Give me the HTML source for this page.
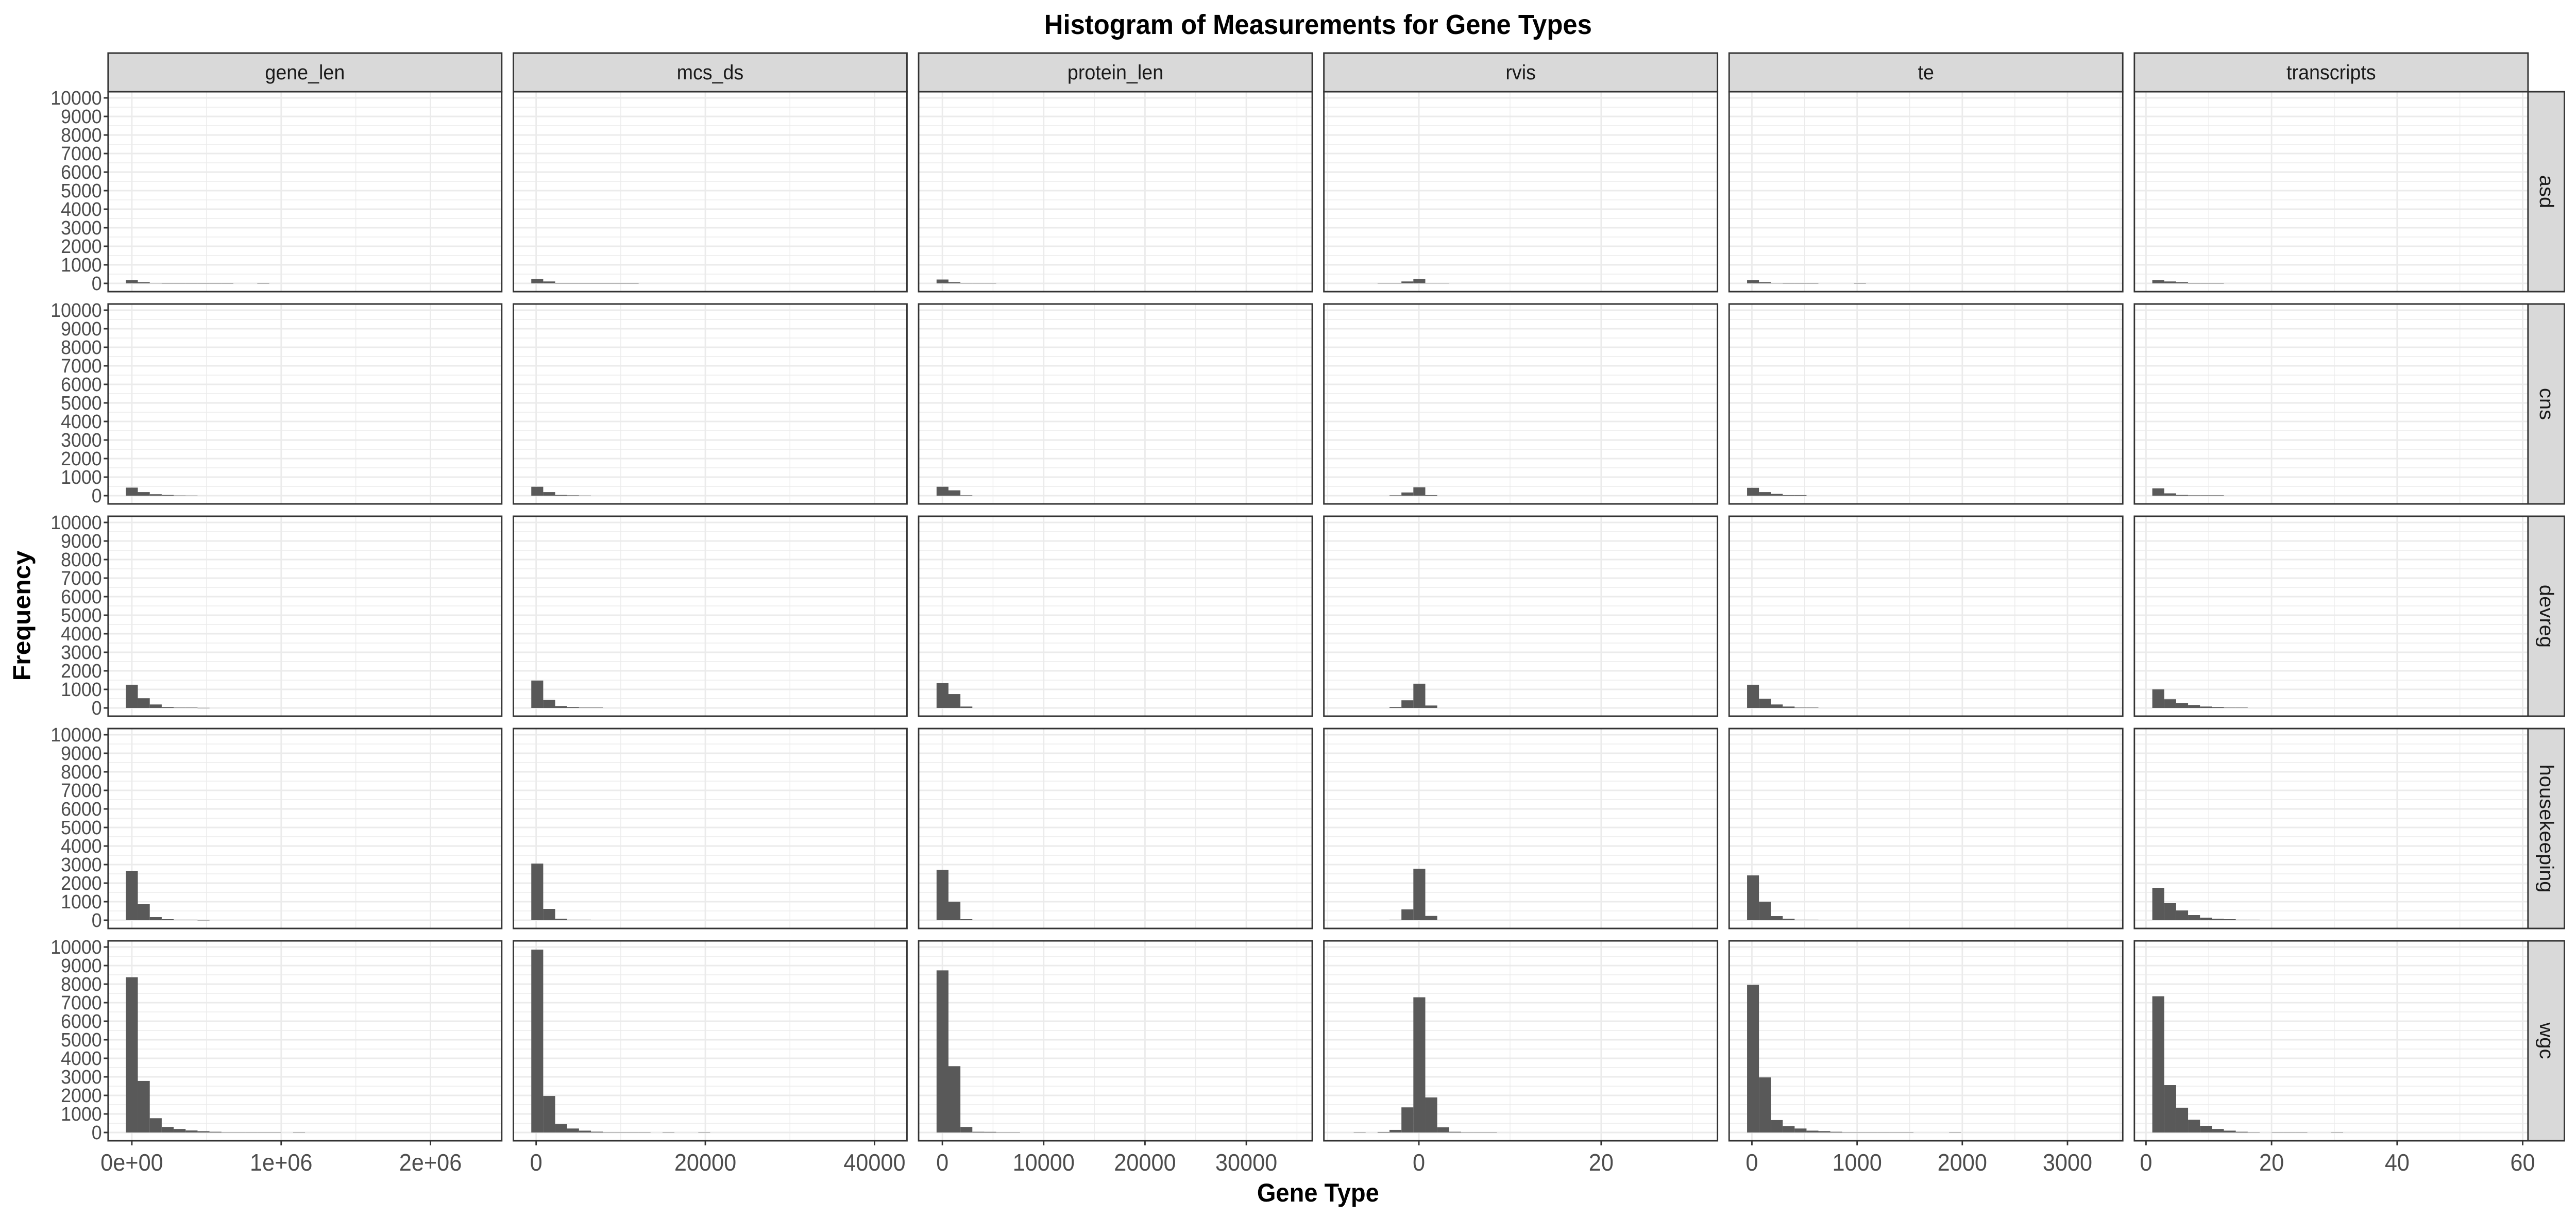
<!DOCTYPE html>
<html><head><meta charset="utf-8"><title>Histogram of Measurements for Gene Types</title>
<style>html,body{margin:0;padding:0;background:#fff;overflow:hidden;}svg{display:block;width:100vw;height:100vh;font-family:"Liberation Sans",Arial,sans-serif;}</style>
</head><body>
<svg id="chart" viewBox="0 0 5314 2362" preserveAspectRatio="none" xmlns="http://www.w3.org/2000/svg"></svg>
<script>
// ---- data ----
const rowNames = ["asd","cns","devreg","housekeeping","wgc"];
const colNames = ["gene_len","mcs_ds","protein_len","rvis","te","transcripts"];
const yTicks = [0,1000,2000,3000,4000,5000,6000,7000,8000,9000,10000];
// bin settings per column (data units)
const binStart = [-40000,-573,-574,-8.46,-46,1.0];
const binWidth = [80000,1410,1177,1.309,113,1.9];
// x tick values / labels per column
const xTicksGeneLen = [0,1000000,2000000];
const xLabelsGeneLen = ["0e+00","1e+06","2e+06"];
const xTicksMcs = [0,20000,40000];
const xTicksProtein = [0,10000,20000,30000];
const xTicksRvis = [0,20];
const xTicksTe = [0,1000,2000,3000];
const xTicksTranscripts = [0,20,40,60];
// counts per facet (row order: asd, cns, devreg, housekeeping, wgc)
const countsGeneLen = [
  [179,66,19,5,5,5,5,4,4,0,0,5],
  [433,192,77,38,10,5],
  [1252,523,187,47,19,19,5],
  [2667,861,167,56,28,28,5],
  [8370,2780,770,300,190,110,70,40,15,10,8,6,4,0,3]
];
const countsMcs = [
  [236,104,5,5,5,5,5,5,5],
  [480,192,38,20,5],
  [1477,439,103,47,19,19],
  [3055,611,83,28,28],
  [9860,1970,445,215,100,45,12,8,6,5,0,4,0,0,3]
];
const countsProtein = [
  [208,66,10,10,10],
  [480,288,20],
  [1336,748,75],
  [2722,1000,56],
  [8740,3575,300,40,35,10,8]
];
const countsRvis = [
  [0,0,0,10,10,104,236,15,15],
  [0,0,0,0,20,173,452,29],
  [0,0,0,0,47,411,1308,131],
  [0,0,0,0,28,583,2778,231],
  [0,5,0,30,140,1355,7290,1890,280,40,10,10,10]
];
const countsTe = [
  [179,66,19,5,5,5,0,0,0,5],
  [423,192,96,30,30],
  [1252,495,187,75,19,19],
  [2417,1000,222,83,28,28],
  [7960,2970,670,350,215,100,75,40,8,8,6,6,5,5,0,0,0,6]
];
const countsTranscripts = [
  [179,104,66,5,5,5],
  [394,125,38,20,20,20],
  [1000,467,271,159,75,47,19,19],
  [1750,917,528,278,139,83,56,28,28],
  [7345,2555,1337,689,360,190,100,40,15,0,8,8,8,0,0,6]
];

// ---- layout ----
const NS = "http://www.w3.org/2000/svg";
const svg = document.getElementById("chart");
const PL = 223, PW = 812, PDX = 836;
const PT = 178, PH = 388, PDY = 412;
const xZero = [49,47,49,196,47,24];
const xScale = [308/1e6, 349/20000, 209/10000, 376/20, 217/1000, 259/20];
const allCounts = [countsGeneLen,countsMcs,countsProtein,countsRvis,countsTe,countsTranscripts];
const allTicks = [xTicksGeneLen,xTicksMcs,xTicksProtein,xTicksRvis,xTicksTe,xTicksTranscripts];
const allLabels = [xLabelsGeneLen,null,null,null,null,null];
const minorGrid = [[500000,1500000],[10000,30000],[5000,15000,25000,35000],[-10,10,30],[500,1500,2500,3500],[10,30,50]];

function xPos(c, v){ return PL + c*PDX + xZero[c] + v*xScale[c]; }
function yPos(r, v){ return PT + r*PDY + 372 - v*0.036; }
function mk(tag, attrs, parent){ const e=document.createElementNS(NS,tag); for(const k in attrs) e.setAttribute(k,attrs[k]); (parent||svg).appendChild(e); return e; }

const title = mk("text",{x:2719,y:66,"text-anchor":"middle","font-size":54,"font-weight":"bold",fill:"#000"});
title.textContent = "Histogram of Measurements for Gene Types";



for(let c=0;c<6;c++){
  const left = PL + c*PDX;
  const st = mk("rect",{x:left,y:103,width:PW,height:75,fill:"#D9D9D9",stroke:"#333","stroke-width":3});
  
  
  const stt = mk("text",{x:left+PW/2,y:154,"text-anchor":"middle","font-size":40,fill:"#1A1A1A"});
  stt.textContent = colNames[c];
  
  

  for(let r=0;r<5;r++){
    const top = PT + r*PDY;
    const g = mk("g",{});
    
    
    mk("rect",{x:left,y:top,width:PW,height:PH,fill:"#fff"},g);
    for(let v=500; v<10000; v+=1000){
      mk("line",{x1:left,x2:left+PW,y1:yPos(r,v),y2:yPos(r,v),stroke:"#EBEBEB","stroke-width":1.5},g);
    }
    for(const v of yTicks){
      mk("line",{x1:left,x2:left+PW,y1:yPos(r,v),y2:yPos(r,v),stroke:"#EBEBEB","stroke-width":3},g);
    }
    for(const v of minorGrid[c]){
      const x=xPos(c,v); if(x>left && x<left+PW) mk("line",{x1:x,x2:x,y1:top,y2:top+PH,stroke:"#EBEBEB","stroke-width":1.5},g);
    }
    for(const v of allTicks[c]){
      const x=xPos(c,v); mk("line",{x1:x,x2:x,y1:top,y2:top+PH,stroke:"#EBEBEB","stroke-width":3},g);
    }
    const counts = allCounts[c][r];
    for(let k=0;k<counts.length;k++){
      if(counts[k]<=0) continue;
      const x0 = xPos(c, binStart[c]+k*binWidth[c]);
      const x1 = xPos(c, binStart[c]+(k+1)*binWidth[c]);
      const y0 = yPos(r, counts[k]), yb = yPos(r,0);
      const b = mk("rect",{x:x0,y:y0,width:x1-x0,height:Math.max(yb-y0,0.6),fill:"#595959"},g);
      
      
    }
    mk("rect",{x:left,y:top,width:PW,height:PH,fill:"none",stroke:"#333","stroke-width":3},g);

    if(c===0){
      for(const v of yTicks){
        const y=yPos(r,v);
        mk("line",{x1:left-9,x2:left,y1:y,y2:y,stroke:"#333","stroke-width":3});
        const t=mk("text",{x:left-13,y:y+13,"text-anchor":"end","font-size":38,fill:"#4D4D4D"});
        t.textContent=String(v);
        
        
      }
    }
    if(c===5){
      const rs=mk("rect",{x:left+PW,y:top,width:75,height:PH,fill:"#D9D9D9",stroke:"#333","stroke-width":3});
      
      
      const cx=left+PW+37.5, cy=top+PH/2;
      const rt=mk("text",{x:cx,y:cy,"text-anchor":"middle","dominant-baseline":"central","font-size":40,fill:"#1A1A1A",transform:"rotate(90 "+cx+" "+cy+")"});
      rt.textContent=rowNames[r];
      
      
    }
    if(r===4){
      const ticks=allTicks[c];
      for(let i=0;i<ticks.length;i++){
        const x=xPos(c,ticks[i]);
        mk("line",{x1:x,x2:x,y1:top+PH,y2:top+PH+9,stroke:"#333","stroke-width":3});
        const t=mk("text",{x:x,y:2272,"text-anchor":"middle","font-size":46,fill:"#4D4D4D"});
        t.textContent = allLabels[c] ? allLabels[c][i] : String(ticks[i]);
        
        
      }
    }
  }
}
const xt=mk("text",{x:2719,y:2332,"text-anchor":"middle","font-size":50,"font-weight":"bold",fill:"#000"});
xt.textContent="Gene Type";


const yt=mk("text",{x:62,y:1195,"text-anchor":"middle","font-size":50,"font-weight":"bold",fill:"#000",transform:"rotate(-90 62 1195)"});
yt.textContent="Frequency";


</script>
</body></html>
